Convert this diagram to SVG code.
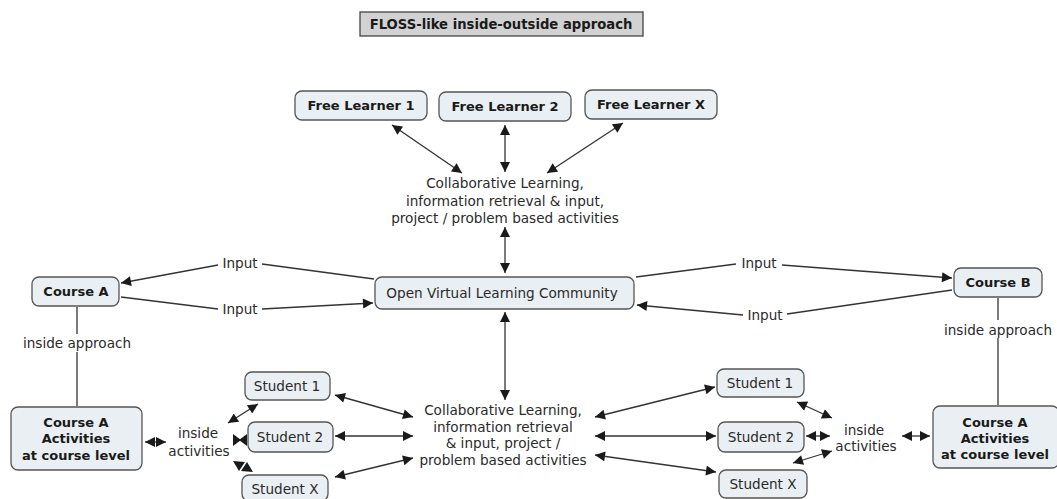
<svg xmlns="http://www.w3.org/2000/svg" width="1057" height="499" viewBox="0 0 1057 499">
<defs>
<marker id="ah" viewBox="0 0 10 10" refX="10" refY="5" markerWidth="12" markerHeight="10" markerUnits="userSpaceOnUse" orient="auto-start-reverse">
<path d="M0,0 L10,5 L0,10 z" fill="#1a1a1a"/>
</marker>
<style>
.n{fill:#e9eff3;stroke:#555;stroke-width:1.3}
.t{font-family:"DejaVu Sans",Verdana,sans-serif;font-size:13.6px;fill:#2a2a2a;text-anchor:middle}
.b{font-weight:bold;fill:#1a1a1a;font-size:13px}
.c line{stroke:#333;stroke-width:1.3;fill:none}
.c polygon{fill:#1a1a1a}
.d{marker-start:url(#ah);marker-end:url(#ah)}
.e{marker-end:url(#ah)}
</style>
</defs>
<rect width="1057" height="499" fill="#fff"/>

<g id="title">
<rect x="360" y="12" width="283" height="24" fill="#d2d2d2" stroke="#444" stroke-width="1.3"/>
<text class="t b" x="501" y="29" style="font-size:13.2px">FLOSS-like inside-outside approach</text>
</g>

<g class="c" id="connectors">
<line class="d" x1="392" y1="125" x2="462" y2="173"/>
<line class="d" x1="505" y1="125" x2="505" y2="172"/>
<line class="d" x1="623" y1="123" x2="547" y2="173"/>
<line class="d" x1="505" y1="227" x2="505" y2="273"/>
<line class="d" x1="505" y1="312" x2="505" y2="400"/>
<line x1="374" y1="279" x2="262" y2="264"/>
<line class="e" x1="218" y1="265" x2="121" y2="283"/>
<line x1="121" y1="297" x2="218" y2="309"/>
<line class="e" x1="262" y1="309" x2="373" y2="303"/>
<line x1="636" y1="277" x2="736" y2="264"/>
<line class="e" x1="782" y1="265" x2="952" y2="278"/>
<line x1="952" y1="290" x2="787" y2="314"/>
<line class="e" x1="743" y1="315" x2="637" y2="305"/>
<line x1="77" y1="307" x2="77" y2="334"/>
<line x1="77" y1="352" x2="77" y2="406"/>
<line x1="998" y1="298" x2="998" y2="320"/>
<line x1="998" y1="338" x2="998" y2="405"/>
<line class="d" x1="145" y1="442" x2="166" y2="442"/>
<line class="d" x1="228" y1="423" x2="258" y2="404"/>
<polygon points="233,434 241,440 233,446"/>
<polygon points="247,434 239,440 247,446"/>
<polygon points="233,461 245,462 239,471"/>
<polygon points="253,472 241,471 247,462"/>
<line class="d" x1="335" y1="395" x2="413" y2="417"/>
<line class="d" x1="335" y1="436" x2="413" y2="436"/>
<line class="d" x1="335" y1="477" x2="413" y2="458"/>
<line class="d" x1="595" y1="417" x2="715" y2="387"/>
<line class="d" x1="595" y1="436" x2="716" y2="436"/>
<line class="d" x1="595" y1="455" x2="716" y2="472"/>
<line class="d" x1="797" y1="402" x2="832" y2="418"/>
<line class="d" x1="806" y1="436" x2="830" y2="436"/>
<line class="d" x1="793" y1="463" x2="832" y2="451"/>
<line class="d" x1="902" y1="436" x2="930" y2="436"/>
</g>

<g id="free-learner-1">
<rect class="n" x="295" y="91" width="132" height="29" rx="7"/>
<text class="t b" x="361" y="110">Free Learner 1</text>
</g>
<g id="free-learner-2">
<rect class="n" x="439" y="92" width="132" height="29" rx="7"/>
<text class="t b" x="505" y="111">Free Learner 2</text>
</g>
<g id="free-learner-x">
<rect class="n" x="585" y="90" width="132" height="29" rx="7"/>
<text class="t b" x="651" y="109">Free Learner X</text>
</g>

<g id="collab-top">
<text class="t" x="505" y="188">Collaborative Learning,</text>
<text class="t" x="505" y="206">information retrieval &amp; input,</text>
<text class="t" x="505" y="223">project / problem based activities</text>
</g>

<g id="ovlc">
<rect class="n" x="375" y="277" width="259" height="32" rx="7"/>
<text class="t" x="502" y="298">Open Virtual Learning Community</text>
</g>

<g id="course-a">
<rect class="n" x="32" y="277" width="87" height="29" rx="7"/>
<text class="t b" x="76" y="296">Course A</text>
</g>
<g id="course-b">
<rect class="n" x="954" y="268" width="88" height="29" rx="7"/>
<text class="t b" x="998" y="287">Course B</text>
</g>

<g id="input-labels">
<text class="t" x="240" y="268">Input</text>
<text class="t" x="240" y="314">Input</text>
<text class="t" x="759" y="268">Input</text>
<text class="t" x="765" y="320">Input</text>
</g>

<g id="inside-approach-left">
<text class="t" x="77" y="348">inside approach</text>
</g>
<g id="inside-approach-right">
<text class="t" x="998" y="335">inside approach</text>
</g>

<g id="course-a-activities-left">
<rect class="n" x="11" y="407" width="131" height="63" rx="7"/>
<text class="t b" x="76" y="427">Course A</text>
<text class="t b" x="76" y="443">Activities</text>
<text class="t b" x="76" y="460">at course level</text>
</g>
<g id="course-a-activities-right">
<rect class="n" x="933" y="406" width="126" height="62" rx="7"/>
<text class="t b" x="995" y="427">Course A</text>
<text class="t b" x="995" y="443">Activities</text>
<text class="t b" x="995" y="459">at course level</text>
</g>

<g id="inside-activities-left">
<text class="t" x="198" y="438">inside</text>
<text class="t" x="199" y="456">activities</text>
</g>
<g id="inside-activities-right">
<text class="t" x="864" y="435">inside</text>
<text class="t" x="866" y="451">activities</text>
</g>

<g id="student-1-left">
<rect class="n" x="245" y="372" width="85" height="28" rx="7"/>
<text class="t" x="287" y="391">Student 1</text>
</g>
<g id="student-2-left">
<rect class="n" x="248" y="422" width="85" height="30" rx="7"/>
<text class="t" x="290" y="442">Student 2</text>
</g>
<g id="student-x-left">
<rect class="n" x="242" y="475" width="86" height="26" rx="7"/>
<text class="t" x="285" y="494">Student X</text>
</g>

<g id="collab-bottom">
<text class="t" x="503" y="415">Collaborative Learning,</text>
<text class="t" x="503" y="432">information retrieval</text>
<text class="t" x="503" y="448">&amp; input, project /</text>
<text class="t" x="503" y="465">problem based activities</text>
</g>

<g id="student-1-right">
<rect class="n" x="717" y="369" width="87" height="28" rx="7"/>
<text class="t" x="760" y="388">Student 1</text>
</g>
<g id="student-2-right">
<rect class="n" x="718" y="422" width="86" height="30" rx="7"/>
<text class="t" x="761" y="442">Student 2</text>
</g>
<g id="student-x-right">
<rect class="n" x="719" y="470" width="88" height="28" rx="7"/>
<text class="t" x="763" y="489">Student X</text>
</g>
</svg>
